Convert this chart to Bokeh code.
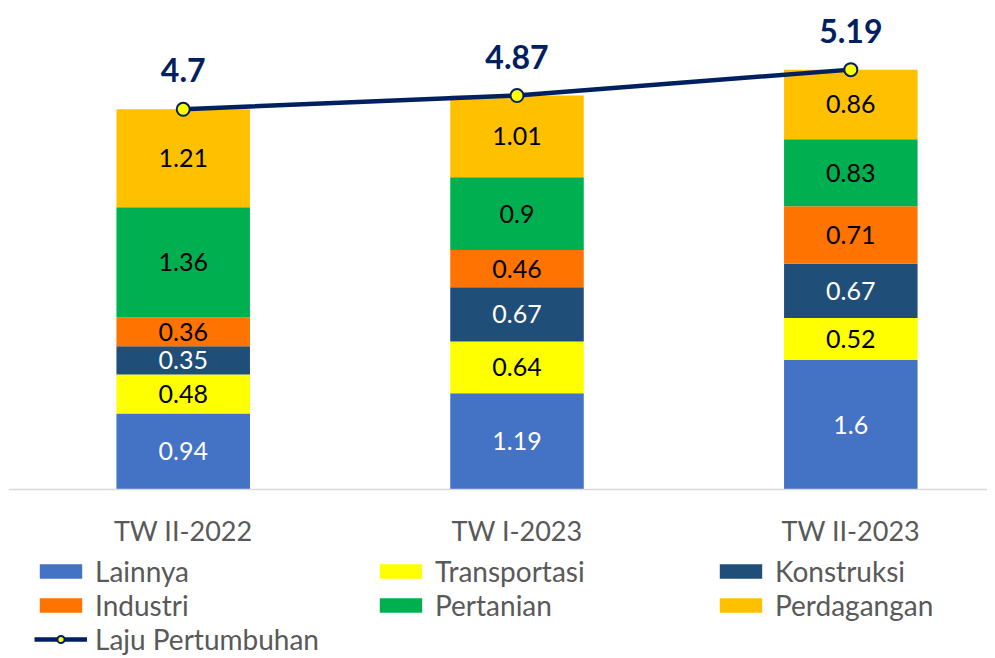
from bokeh.plotting import figure
from bokeh.models import (ColumnDataSource, Range1d, LinearAxis, FixedTicker,
                          Legend, LegendItem)
from bokeh.core.properties import value
from bokeh.embed import file_html
from bokeh.resources import INLINE

# ---- data ----
categories = ["TW II-2022", "TW I-2023", "TW II-2023"]
sectors = ["Lainnya", "Transportasi", "Konstruksi", "Industri", "Pertanian", "Perdagangan"]
lainnya = [0.94, 1.19, 1.6]
transportasi = [0.48, 0.64, 0.52]
konstruksi = [0.35, 0.67, 0.67]
industri = [0.36, 0.46, 0.71]
pertanian = [1.36, 0.9, 0.83]
perdagangan = [1.21, 1.01, 0.86]
laju = [4.7, 4.87, 5.19]
laju_name = "Laju Pertumbuhan"

colors = ["#4472C4", "#FFFF00", "#1F4E79", "#FF7300", "#00B050", "#FFC000"]
label_colors = ["white", "black", "white", "black", "black", "black"]
FONT = "Lato"

series = [lainnya, transportasi, konstruksi, industri, pertanian, perdagangan]
xs = list(range(len(categories)))

data = {"x": xs}
for name, vals in zip(sectors, series):
    data[name] = vals
source = ColumnDataSource(data)

W, H = 987, 656
PXU = 80.9
frame_h = H - 8
frame_w = W - 8
y_top = (489 - 8) / PXU
x0 = -0.5234

p = figure(width=W, height=H, output_backend="svg", toolbar_location=None,
           x_axis_type=None, y_axis_type=None,
           x_range=Range1d(x0, x0 + frame_w / 333.8),
           y_range=Range1d(y_top - frame_h / PXU, y_top),
           min_border=0, min_border_left=8, min_border_right=0,
           min_border_top=8, min_border_bottom=0)
p.outline_line_color = None
p.grid.visible = False
p.background_fill_color = "white"

bars = p.vbar_stack(sectors, x="x", width=0.4, color=colors, line_color=None, source=source)

# segment labels
lx, ly, lt, lc = [], [], [], []
for i in xs:
    base = 0.0
    for k, vals in enumerate(series):
        v = vals[i]
        lx.append(i)
        ly.append(base + v / 2)
        lt.append(f"{v:g}")
        lc.append(label_colors[k])
        base += v
p.text(x=lx, y=ly, text=lt, text_color=lc, text_align="center", text_baseline="middle",
       text_font=value(FONT), text_font_size="25px")

# growth line
ln = p.line(xs, laju, line_color="#002060", line_width=4.5)
sc = p.scatter(xs, laju, size=13, fill_color="#FFFF00", line_color="#002060", line_width=2)
p.text(x=xs, y=laju, text=[f"{v:g}" for v in laju], text_color="#002060",
       text_align="center", text_baseline="alphabetic", y_offset=-39,
       text_font=value(FONT), text_font_style="bold", text_font_size="32px")

# x axis at zero
xaxis = LinearAxis(fixed_location=0, ticker=FixedTicker(ticks=xs),
                   major_label_overrides={i: c for i, c in enumerate(categories)})
xaxis.axis_line_color = "#D9D9D9"
xaxis.axis_line_width = 1.5
xaxis.major_tick_line_color = None
xaxis.minor_tick_line_color = None
xaxis.major_label_standoff = 18
xaxis.major_label_text_font = FONT
xaxis.major_label_text_font_size = "27px"
xaxis.major_label_text_color = "#595959"
p.add_layout(xaxis, "below")

items = [LegendItem(label=name, renderers=[r]) for name, r in zip(sectors, bars)]
items.append(LegendItem(label=laju_name, renderers=[ln, sc]))
legend = Legend(items=items, orientation="horizontal", ncols=3,
                location=(26, 0), padding=0, margin=0, spacing=0,
                glyph_width=53, glyph_height=18, label_standoff=8, label_width=279,
                label_text_font=FONT, label_text_font_size="28px",
                label_text_color="#595959",
                border_line_color=None, background_fill_alpha=0)
p.add_layout(legend, "center")

open("out.html", "w").write(file_html(p, INLINE))
